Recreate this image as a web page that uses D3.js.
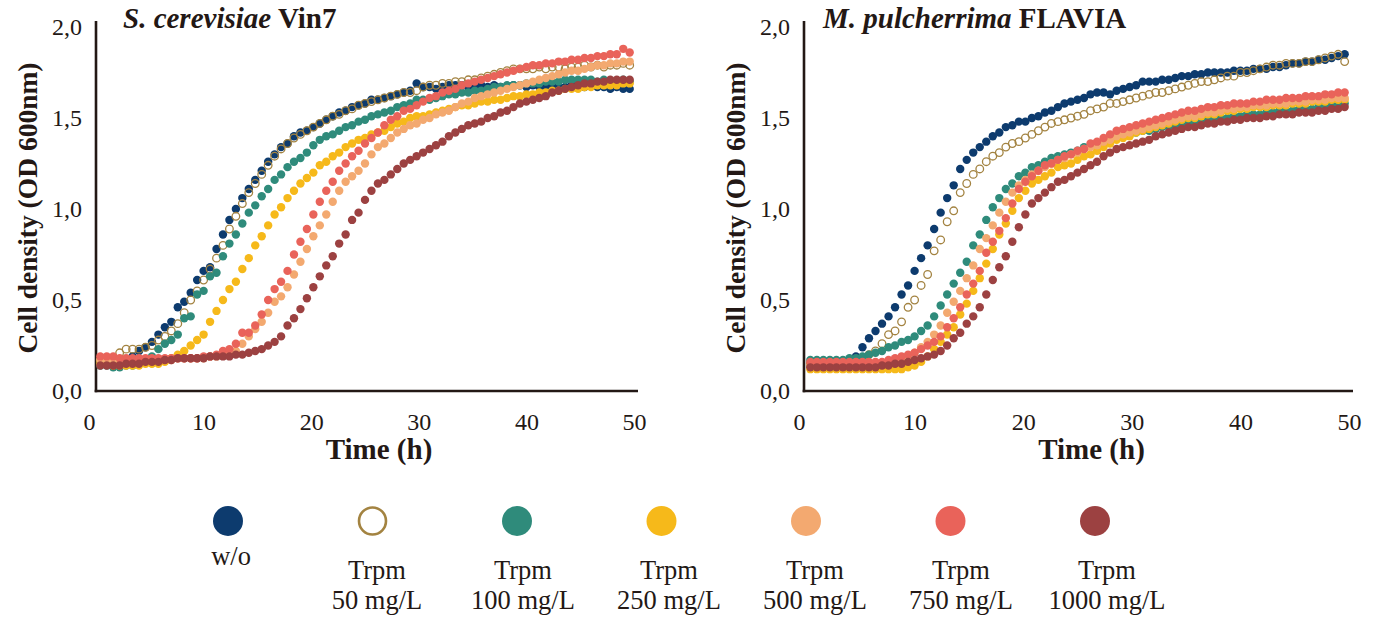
<!DOCTYPE html>
<html>
<head>
<meta charset="utf-8">
<script src="https://cdn.jsdelivr.net/npm/d3@7"></script>
<style>
  body { margin: 0; background: #fff; }
  svg text { font-family: "Liberation Serif", "Times New Roman", serif; fill: #231815; }
</style>
</head>
<body>
<svg id="chart" width="1381" height="622"></svg>
<script>
// Growth curves (OD 600 nm) sampled every 0.6 h, first reading at 0.4 h
const firstSample = 0.4;
const sampleStep = 0.6;

const seriesLabels = [["w/o"], ["Trpm", "50 mg/L"], ["Trpm", "100 mg/L"], ["Trpm", "250 mg/L"],
                      ["Trpm", "500 mg/L"], ["Trpm", "750 mg/L"], ["Trpm", "1000 mg/L"]];
const seriesColors = ["#0d3b6e", "#a38341", "#2f8b7b", "#f6b91a", "#f3a970", "#e9635a", "#9c4141"];
const seriesOpen = [false, true, false, false, false, false, false];

const yTicks = [0, 0.5, 1, 1.5, 2];
const xTicks = [0, 10, 20, 30, 40, 50];

// S. cerevisiae Vin7
const vin7_wo = [
  0.15,0.15,0.16,0.16,0.17,0.19,0.22,0.24,0.27,0.31,
  0.35,0.38,0.46,0.49,0.54,0.61,0.66,0.68,0.78,0.86,
  0.94,1.00,1.06,1.11,1.16,1.21,1.26,1.30,1.34,1.36,
  1.40,1.42,1.43,1.45,1.47,1.49,1.51,1.53,1.54,1.56,
  1.57,1.58,1.60,1.60,1.61,1.62,1.63,1.64,1.65,1.69,
  1.67,1.67,1.66,1.67,1.68,1.68,1.68,1.67,1.68,1.68,
  1.67,1.68,1.67,1.67,1.68,1.68,1.67,1.68,1.67,1.67,
  1.68,1.67,1.67,1.68,1.67,1.67,1.68,1.67,1.67,1.66,
  1.67,1.66,1.66];
const vin7_t50 = [
  0.17,0.17,0.18,0.21,0.23,0.23,0.23,0.24,0.25,0.28,
  0.30,0.33,0.37,0.43,0.50,0.55,0.61,0.67,0.73,0.80,
  0.89,0.96,1.03,1.09,1.14,1.19,1.24,1.29,1.33,1.36,
  1.39,1.41,1.43,1.45,1.47,1.49,1.51,1.52,1.54,1.55,
  1.57,1.58,1.59,1.60,1.61,1.62,1.63,1.64,1.64,1.65,
  1.67,1.68,1.68,1.69,1.69,1.70,1.70,1.71,1.71,1.72,
  1.73,1.74,1.75,1.76,1.77,1.77,1.77,1.77,1.78,1.77,
  1.78,1.78,1.77,1.78,1.78,1.79,1.78,1.79,1.78,1.79,
  1.79,1.80,1.79];
const vin7_t100 = [
  0.14,0.14,0.13,0.13,0.14,0.14,0.15,0.17,0.19,0.23,
  0.26,0.28,0.31,0.40,0.41,0.53,0.55,0.63,0.65,0.74,
  0.81,0.86,0.92,0.98,1.02,1.07,1.11,1.16,1.19,1.23,
  1.26,1.28,1.31,1.35,1.38,1.40,1.41,1.43,1.45,1.46,
  1.48,1.49,1.51,1.52,1.53,1.54,1.56,1.57,1.58,1.60,
  1.60,1.60,1.61,1.62,1.63,1.63,1.64,1.64,1.65,1.65,
  1.66,1.67,1.67,1.68,1.68,1.68,1.69,1.69,1.69,1.70,
  1.70,1.70,1.71,1.71,1.71,1.71,1.71,1.70,1.71,1.70,
  1.70,1.71,1.70];
const vin7_t250 = [
  0.15,0.15,0.14,0.14,0.14,0.14,0.14,0.15,0.15,0.15,
  0.16,0.18,0.20,0.22,0.25,0.28,0.31,0.38,0.44,0.50,
  0.56,0.60,0.67,0.73,0.80,0.85,0.91,0.97,1.01,1.06,
  1.10,1.14,1.17,1.20,1.24,1.26,1.29,1.31,1.34,1.36,
  1.38,1.39,1.41,1.42,1.43,1.45,1.47,1.48,1.50,1.51,
  1.51,1.52,1.53,1.54,1.55,1.56,1.57,1.57,1.58,1.59,
  1.59,1.60,1.60,1.61,1.62,1.62,1.63,1.63,1.64,1.64,
  1.65,1.65,1.66,1.66,1.66,1.67,1.67,1.68,1.68,1.68,
  1.68,1.69,1.69];
const vin7_t500 = [
  0.17,0.17,0.17,0.17,0.17,0.17,0.17,0.17,0.17,0.17,
  0.17,0.17,0.18,0.18,0.18,0.18,0.18,0.19,0.19,0.20,
  0.21,0.22,0.26,0.30,0.34,0.38,0.43,0.49,0.52,0.57,
  0.64,0.71,0.78,0.85,0.91,0.97,1.04,1.10,1.15,1.18,
  1.21,1.25,1.30,1.34,1.36,1.39,1.42,1.44,1.46,1.47,
  1.49,1.50,1.52,1.53,1.54,1.56,1.58,1.59,1.61,1.62,
  1.63,1.64,1.65,1.66,1.67,1.68,1.69,1.70,1.71,1.72,
  1.73,1.74,1.75,1.76,1.76,1.77,1.78,1.79,1.79,1.80,
  1.80,1.81,1.81];
const vin7_t750 = [
  0.19,0.19,0.19,0.18,0.18,0.18,0.18,0.18,0.18,0.18,
  0.18,0.18,0.18,0.18,0.18,0.18,0.19,0.19,0.20,0.22,
  0.23,0.26,0.32,0.32,0.36,0.42,0.50,0.56,0.60,0.66,
  0.75,0.82,0.89,0.97,1.04,1.10,1.15,1.21,1.25,1.29,
  1.32,1.36,1.39,1.42,1.46,1.49,1.51,1.54,1.55,1.57,
  1.59,1.61,1.62,1.64,1.65,1.66,1.68,1.69,1.70,1.71,
  1.72,1.73,1.74,1.75,1.76,1.77,1.78,1.79,1.79,1.80,
  1.80,1.81,1.81,1.82,1.82,1.83,1.83,1.84,1.84,1.85,
  1.85,1.88,1.86];
const vin7_t1000 = [
  0.14,0.14,0.14,0.14,0.15,0.15,0.15,0.16,0.16,0.16,
  0.17,0.17,0.18,0.18,0.18,0.18,0.18,0.19,0.19,0.19,
  0.19,0.20,0.20,0.21,0.22,0.23,0.25,0.27,0.30,0.36,
  0.40,0.45,0.51,0.57,0.63,0.69,0.74,0.81,0.86,0.94,
  0.98,1.05,1.10,1.14,1.16,1.19,1.22,1.25,1.27,1.29,
  1.31,1.33,1.35,1.37,1.40,1.42,1.44,1.46,1.47,1.48,
  1.50,1.51,1.53,1.54,1.56,1.58,1.59,1.60,1.61,1.62,
  1.64,1.65,1.66,1.67,1.68,1.69,1.69,1.70,1.70,1.71,
  1.71,1.71,1.71];

// M. pulcherrima FLAVIA
const flavia_wo = [
  0.14,0.14,0.14,0.14,0.14,0.15,0.16,0.19,0.24,0.29,
  0.33,0.37,0.41,0.46,0.53,0.58,0.66,0.73,0.80,0.89,
  0.98,1.06,1.13,1.22,1.27,1.31,1.34,1.37,1.40,1.42,
  1.45,1.46,1.48,1.48,1.50,1.51,1.53,1.54,1.56,1.58,
  1.59,1.60,1.61,1.63,1.64,1.64,1.63,1.65,1.66,1.67,
  1.68,1.70,1.70,1.70,1.71,1.71,1.72,1.73,1.73,1.74,
  1.74,1.75,1.75,1.75,1.75,1.76,1.76,1.76,1.77,1.77,
  1.77,1.78,1.78,1.79,1.80,1.80,1.81,1.81,1.82,1.82,
  1.83,1.84,1.85];
const flavia_t50 = [
  0.15,0.15,0.15,0.15,0.15,0.15,0.16,0.17,0.18,0.20,
  0.22,0.26,0.31,0.33,0.38,0.46,0.50,0.58,0.64,0.77,
  0.83,0.93,0.99,1.09,1.14,1.19,1.22,1.26,1.29,1.31,
  1.34,1.36,1.37,1.39,1.41,1.43,1.45,1.47,1.48,1.49,
  1.50,1.51,1.52,1.54,1.55,1.56,1.58,1.58,1.59,1.60,
  1.61,1.62,1.63,1.64,1.64,1.65,1.66,1.67,1.68,1.69,
  1.70,1.70,1.71,1.72,1.73,1.73,1.75,1.75,1.76,1.77,
  1.78,1.79,1.79,1.80,1.80,1.80,1.81,1.81,1.82,1.83,
  1.84,1.85,1.81];
const flavia_t100 = [
  0.17,0.17,0.17,0.17,0.17,0.17,0.18,0.18,0.19,0.20,
  0.21,0.22,0.24,0.25,0.27,0.28,0.30,0.33,0.36,0.41,
  0.47,0.53,0.59,0.65,0.71,0.80,0.86,0.94,1.01,1.06,
  1.11,1.14,1.18,1.20,1.23,1.24,1.26,1.28,1.29,1.30,
  1.31,1.32,1.34,1.35,1.36,1.37,1.38,1.39,1.40,1.41,
  1.42,1.43,1.43,1.44,1.45,1.45,1.46,1.47,1.47,1.48,
  1.48,1.49,1.49,1.50,1.50,1.51,1.51,1.52,1.52,1.52,
  1.53,1.53,1.54,1.54,1.54,1.55,1.55,1.55,1.56,1.56,
  1.57,1.57,1.58];
const flavia_t250 = [
  0.12,0.12,0.12,0.12,0.12,0.12,0.12,0.12,0.12,0.12,
  0.12,0.12,0.12,0.12,0.12,0.13,0.14,0.16,0.19,0.23,
  0.27,0.31,0.35,0.42,0.48,0.55,0.62,0.70,0.78,0.86,
  0.92,0.99,1.06,1.10,1.14,1.16,1.18,1.20,1.23,1.24,
  1.25,1.27,1.29,1.30,1.32,1.34,1.36,1.38,1.39,1.40,
  1.42,1.43,1.44,1.45,1.46,1.47,1.48,1.49,1.50,1.50,
  1.51,1.52,1.52,1.53,1.54,1.54,1.55,1.55,1.56,1.56,
  1.56,1.57,1.57,1.57,1.58,1.58,1.58,1.59,1.59,1.59,
  1.60,1.60,1.60];
const flavia_t500 = [
  0.14,0.14,0.14,0.14,0.14,0.14,0.14,0.14,0.14,0.14,
  0.15,0.15,0.15,0.16,0.17,0.19,0.21,0.24,0.27,0.31,
  0.36,0.43,0.49,0.55,0.62,0.69,0.78,0.84,0.91,0.98,
  1.04,1.09,1.13,1.16,1.19,1.21,1.23,1.25,1.27,1.28,
  1.30,1.31,1.33,1.34,1.35,1.37,1.38,1.40,1.41,1.42,
  1.43,1.44,1.45,1.46,1.47,1.48,1.49,1.50,1.51,1.51,
  1.52,1.53,1.53,1.54,1.55,1.55,1.56,1.56,1.57,1.57,
  1.57,1.58,1.58,1.58,1.59,1.59,1.59,1.60,1.60,1.60,
  1.61,1.61,1.61];
const flavia_t750 = [
  0.16,0.16,0.16,0.16,0.16,0.16,0.16,0.16,0.16,0.16,
  0.16,0.16,0.17,0.18,0.19,0.20,0.21,0.23,0.25,0.27,
  0.30,0.35,0.40,0.46,0.53,0.59,0.66,0.76,0.82,0.88,
  0.95,1.03,1.11,1.15,1.18,1.21,1.24,1.25,1.27,1.29,
  1.30,1.32,1.33,1.36,1.37,1.39,1.41,1.43,1.44,1.45,
  1.46,1.47,1.48,1.49,1.50,1.51,1.52,1.53,1.54,1.54,
  1.55,1.56,1.56,1.57,1.57,1.58,1.58,1.58,1.59,1.59,
  1.60,1.60,1.60,1.61,1.61,1.61,1.62,1.62,1.62,1.63,
  1.63,1.64,1.64];
const flavia_t1000 = [
  0.13,0.13,0.13,0.13,0.13,0.13,0.13,0.13,0.13,0.13,
  0.13,0.14,0.14,0.15,0.15,0.16,0.17,0.18,0.19,0.20,
  0.22,0.25,0.29,0.32,0.37,0.41,0.46,0.53,0.61,0.68,
  0.74,0.82,0.90,0.97,1.03,1.06,1.09,1.12,1.15,1.16,
  1.18,1.20,1.22,1.24,1.26,1.29,1.31,1.33,1.34,1.35,
  1.36,1.37,1.38,1.40,1.41,1.42,1.43,1.44,1.45,1.45,
  1.46,1.47,1.47,1.48,1.48,1.49,1.49,1.50,1.50,1.50,
  1.51,1.51,1.52,1.52,1.52,1.53,1.53,1.53,1.54,1.54,
  1.55,1.55,1.56];

const panels = [
  { italic: "S. cerevisiae", plain: " Vin7", axisX: 96, x0: 96, x1: 634, titleX: 123,
    series: [vin7_wo, vin7_t50, vin7_t100, vin7_t250, vin7_t500, vin7_t750, vin7_t1000] },
  { italic: "M. pulcherrima", plain: " FLAVIA", axisX: 804, x0: 806, x1: 1349, titleX: 823,
    series: [flavia_wo, flavia_t50, flavia_t100, flavia_t250, flavia_t500, flavia_t750, flavia_t1000] }
];

const svg = d3.select("#chart");
const ink = "#231815";
const y = d3.scaleLinear().domain([0, 2]).range([391, 27]);
const fmt = d => d3.format(".1f")(d).replace(".", ",");

panels.forEach(p => {
  const g = svg.append("g");
  const x = d3.scaleLinear().domain([0, 50]).range([p.x0, p.x1]);

  // y tick labels
  const yAxis = g.append("g")
    .attr("transform", `translate(${p.axisX},0)`)
    .call(d3.axisLeft(y).tickValues(yTicks).tickFormat(fmt).tickSize(0).tickPadding(14));
  yAxis.select(".domain").remove();
  yAxis.selectAll("text").attr("font-size", 24).attr("font-family", null).style("fill", ink);

  // x tick labels
  const xAxis = g.append("g")
    .attr("transform", `translate(0,${y(0)})`)
    .call(d3.axisBottom(x).tickValues(xTicks).tickFormat(d3.format("d")).tickSize(0));
  xAxis.select(".domain").remove();
  xAxis.selectAll("text").attr("font-size", 24).attr("font-family", null)
    .attr("y", 39).attr("dy", null).style("fill", ink)
    .attr("dx", d => d === 0 ? -7 : 0);

  // axis lines
  g.append("line").attr("x1", p.axisX).attr("x2", p.axisX)
    .attr("y1", y(2) - 6).attr("y2", y(0) + 1.2)
    .attr("stroke", ink).attr("stroke-width", 2.6);
  g.append("line").attr("x1", p.axisX - 1.3).attr("x2", x(50) + 4)
    .attr("y1", y(0)).attr("y2", y(0))
    .attr("stroke", ink).attr("stroke-width", 2.6);

  // panel title
  const title = g.append("text").attr("x", p.titleX).attr("y", 28)
    .attr("font-size", 29).attr("font-weight", "bold");
  title.append("tspan").attr("font-style", "italic").text(p.italic);
  title.append("tspan").text(p.plain);

  // axis titles
  g.append("text").attr("x", (p.x0 + p.x1) / 2 + 14).attr("y", 459)
    .attr("text-anchor", "middle").attr("font-size", 29).attr("font-weight", "bold")
    .text("Time (h)");
  g.append("text")
    .attr("transform", `translate(${p.axisX - 69},${208}) rotate(-90)`)
    .attr("text-anchor", "middle").attr("dominant-baseline", "central")
    .attr("font-size", 27.5).attr("font-weight", "bold")
    .text("Cell density (OD 600nm)");

  // data points
  p.series.forEach((vals, si) => {
    const open = seriesOpen[si];
    g.append("g").selectAll("circle").data(vals).join("circle")
      .attr("cx", (d, i) => x(firstSample + i * sampleStep))
      .attr("cy", d => y(d))
      .attr("r", open ? 3.8 : 4.2)
      .attr("fill", open ? "none" : seriesColors[si])
      .attr("stroke", open ? seriesColors[si] : "none")
      .attr("stroke-width", open ? 1.3 : 0);
  });
});

// legend
const legendDot = d3.scalePoint().domain(d3.range(seriesLabels.length)).range([228, 1095]);
const legendText = d3.scalePoint().domain(d3.range(seriesLabels.length)).range([231, 1107]);
const legend = svg.append("g");
seriesLabels.forEach((lines, i) => {
  const open = seriesOpen[i];
  legend.append("circle")
    .attr("cx", legendDot(i)).attr("cy", 521).attr("r", open ? 13.5 : 15)
    .attr("fill", open ? "#fff" : seriesColors[i])
    .attr("stroke", open ? seriesColors[i] : "none")
    .attr("stroke-width", open ? 2.6 : 0);
  const t = legend.append("text").attr("text-anchor", "middle").attr("font-size", 26.5);
  if (lines.length === 1) {
    t.append("tspan").attr("x", legendText(i)).attr("y", 565).text(lines[0]);
  } else {
    t.append("tspan").attr("x", legendText(i)).attr("y", 579).text(lines[0]);
    t.append("tspan").attr("x", legendText(i)).attr("y", 609).text(lines[1]);
  }
});
</script>
</body>
</html>
